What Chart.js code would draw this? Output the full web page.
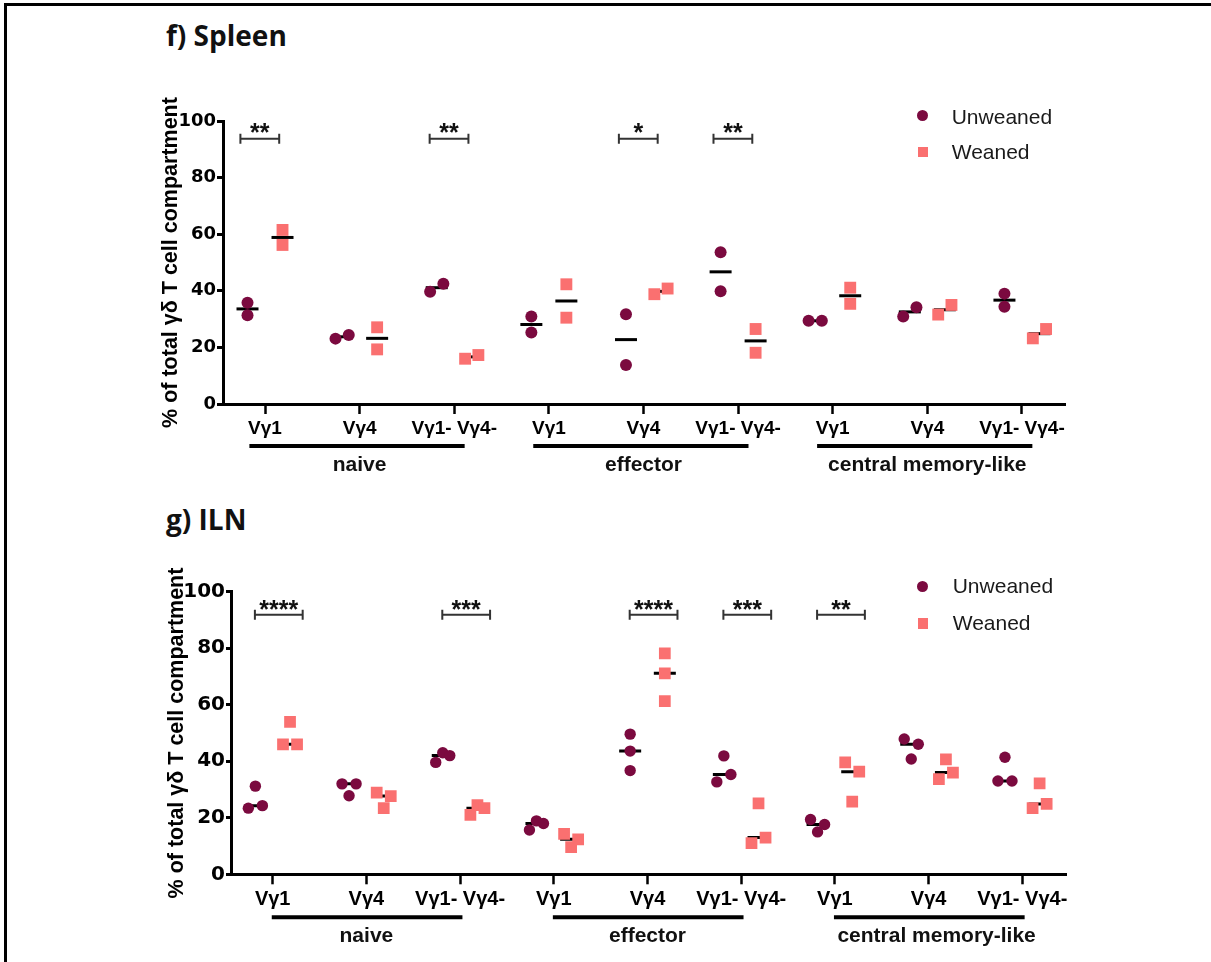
<!DOCTYPE html>
<html>
<head>
<meta charset="utf-8">
<script src="https://cdn.jsdelivr.net/npm/chart.js@4.4.1/dist/chart.umd.min.js"></script>
<style>
  html, body { margin: 0; padding: 0; background: #fff; }
  body { width: 1211px; height: 962px; position: relative; overflow: hidden; font-family: "Liberation Sans", Arial, sans-serif; }
  .frame { position: absolute; left: 4px; top: 3px; width: 1300px; height: 1000px; border-left: 3px solid #000; border-top: 3px solid #000; }
  .ptitle { position: absolute; font-family: "Open Sans", sans-serif; font-weight: 700; font-size: 28px; line-height: 28px; color: #111; white-space: nowrap; }
  canvas { position: absolute; left: 0; }
  .leg-text { position: absolute; font-family: "Liberation Sans", Arial, sans-serif; font-size: 21px; line-height: 21px; color: #1a1a1a; white-space: nowrap; }
  .dot { position: absolute; width: 11px; height: 11px; border-radius: 50%; background: #7b0a3f; }
  .sq { position: absolute; width: 10.5px; height: 10.5px; background: #fa7070; }
</style>
</head>
<body>
<div class="frame"></div>
<div class="ptitle" style="left:166px; top:20.6px;">f) Spleen</div>
<div class="ptitle" style="left:166px; top:505px;">g) ILN</div>

<canvas id="spleen" width="1211" height="480" style="top:0px;"></canvas>
<canvas id="iln" width="1211" height="482" style="top:480px;"></canvas>

<!-- legends -->
<div class="dot" style="left:917.2px; top:110.2px;"></div>
<div class="leg-text" style="left:951.7px; top:105.5px;">Unweaned</div>
<div class="sq" style="left:917.5px; top:146.5px;"></div>
<div class="leg-text" style="left:951.7px; top:141.2px;">Weaned</div>

<div class="dot" style="left:917.2px; top:580.5px;"></div>
<div class="leg-text" style="left:952.7px; top:575.2px;">Unweaned</div>
<div class="sq" style="left:917.5px; top:618px;"></div>
<div class="leg-text" style="left:952.7px; top:612.2px;">Weaned</div>

<script>
// ---------------- DATA ----------------
const categories = ['Vγ1', 'Vγ4', 'Vγ1- Vγ4-', 'Vγ1', 'Vγ4', 'Vγ1- Vγ4-', 'Vγ1', 'Vγ4', 'Vγ1- Vγ4-'];
const groupNames = ['naive', 'effector', 'central memory-like'];
const groupCategoryRanges = [[0, 2], [3, 5], [6, 8]];
const yTickValues = [0, 20, 40, 60, 80, 100];
const seriesNames = ['Unweaned', 'Weaned'];
const yAxisTitle = '% of total γδ T cell compartment';

// Spleen (f) – individual mice, % of total γδ T cell compartment
const spleenUnweaned = [[35.8, 31.4], [23.1, 24.4], [39.7, 42.5], [30.9, 25.3], [31.7, 13.8], [53.6, 39.8], [29.4, 29.4], [30.9, 34.2], [39.0, 34.4]];
const spleenWeaned   = [[61.5, 56.2], [27.1, 19.3], [16.0, 17.3], [42.3, 30.5], [38.8, 40.8], [26.5, 18.1], [41.1, 35.4], [31.6, 35.0], [23.2, 26.5]];
const spleenSignificance = [[0, '**'], [2, '**'], [4, '*'], [5, '**']];

// ILN (g)
const ilnUnweaned = [[23.4, 24.3, 31.2], [32.0, 32.0, 27.8], [39.6, 43.0, 42.0], [15.7, 18.9, 18.0], [49.6, 43.6, 36.7], [32.7, 35.3, 41.9], [19.4, 15.0, 17.6], [47.9, 46.0, 40.8], [41.4, 33.0, 33.0]];
const ilnWeaned   = [[46.0, 46.0, 53.9], [28.9, 27.7, 23.4], [21.0, 24.5, 23.4], [14.3, 9.6, 12.4], [78.2, 71.1, 61.3], [25.1, 11.0, 13.0], [39.6, 36.3, 25.7], [40.7, 33.7, 36.0], [32.2, 23.4, 24.9]];
const ilnSignificance = [[0, '****'], [2, '***'], [4, '****'], [5, '***'], [6, '**']];

// ---------------- HELPERS ----------------
const COL_UNW = '#7b0a3f';
const COL_WEA = '#fa7070';

// spread points that sit at (nearly) the same height side by side, like a dot plot
function rowOffsets(vals, rowWidth, threshold) {
  const idx = vals.map((v, i) => i).sort((a, b) => vals[a] - vals[b]);
  const rows = [];
  let cur = [idx[0]];
  for (let k = 1; k < idx.length; k++) {
    if (vals[idx[k]] - vals[idx[k - 1]] < threshold) cur.push(idx[k]);
    else { rows.push(cur); cur = [idx[k]]; }
  }
  rows.push(cur);
  const off = new Array(vals.length).fill(0);
  rows.forEach(r => {
    r.sort((a, b) => a - b);
    const n = r.length;
    if (n > 1) r.forEach((i, j) => { off[i] = -rowWidth / 2 + rowWidth * j / (n - 1); });
  });
  return off;
}
function median(vals) {
  const s = [...vals].sort((a, b) => a - b);
  const n = s.length;
  return n % 2 ? s[(n - 1) / 2] : (s[n / 2 - 1] + s[n / 2]) / 2;
}
function toPoints(groups, shift, rowWidth) {
  const pts = [];
  groups.forEach((vals, c) => {
    const off = rowOffsets(vals, rowWidth, 3.9);
    vals.forEach((v, i) => pts.push({ x: c + shift + off[i], y: v }));
  });
  return pts;
}
function toMedians(groups, shift) {
  return groups.map((vals, c) => ({ x: c + shift, y: median(vals) }));
}

const annotPlugin = {
  id: 'annot',
  afterDraw(chart, args, o) {
    const { ctx, chartArea: ca, scales: { x, y } } = chart;
    ctx.save();
    // significance brackets
    o.sig.forEach(([c, label]) => {
      const x1 = x.getPixelForValue(c + o.bL);
      const x2 = x.getPixelForValue(c + o.bR);
      const yy = y.getPixelForValue(o.bY);
      ctx.strokeStyle = '#333';
      ctx.lineWidth = 2;
      ctx.beginPath();
      ctx.moveTo(x1, yy); ctx.lineTo(x2, yy);
      ctx.moveTo(x1, yy - 5); ctx.lineTo(x1, yy + 5);
      ctx.moveTo(x2, yy - 5); ctx.lineTo(x2, yy + 5);
      ctx.stroke();
      ctx.fillStyle = '#111';
      ctx.font = 'bold 25px "Liberation Sans", Arial, sans-serif';
      ctx.textAlign = 'center';
      ctx.textBaseline = 'alphabetic';
      ctx.fillText(label, (x1 + x2) / 2, yy + o.starDy);
    });
    // group bars + labels
    groupNames.forEach((name, g) => {
      const [a, b] = groupCategoryRanges[g];
      const xa = x.getPixelForValue(a + o.barL);
      const xb = x.getPixelForValue(b + o.barR);
      const yb = ca.bottom + o.barDy;
      ctx.strokeStyle = '#000';
      ctx.lineWidth = 4;
      ctx.beginPath(); ctx.moveTo(xa, yb); ctx.lineTo(xb, yb); ctx.stroke();
      ctx.fillStyle = '#111';
      ctx.font = 'bold 21px "Liberation Sans", Arial, sans-serif';
      ctx.textAlign = 'center';
      ctx.textBaseline = 'middle';
      ctx.fillText(name, x.getPixelForValue((a + b) / 2) + o.labelDx[g], ca.bottom + o.labelDy);
    });
    ctx.restore();
  }
};

function makePanel(id, unw, wea, sig, cfg) {
  const shift = 0.185;
  return new Chart(document.getElementById(id), {
    type: 'scatter',
    data: {
      datasets: [
        { label: seriesNames[0], data: toPoints(unw, -shift, cfg.rowW), pointStyle: 'circle', pointRadius: cfg.circR,
          pointBackgroundColor: COL_UNW, pointBorderWidth: 0, pointBorderColor: COL_UNW, order: 1 },
        { label: seriesNames[1], data: toPoints(wea, shift, cfg.rowW), pointStyle: 'rect', pointRadius: cfg.rectR,
          pointBackgroundColor: COL_WEA, pointBorderWidth: 0, pointBorderColor: COL_WEA, order: 2 },
        { label: 'median Unweaned', data: toMedians(unw, -shift), pointStyle: 'line', pointRadius: 11,
          pointBorderColor: '#000', pointBorderWidth: 3, order: 3 },
        { label: 'median Weaned', data: toMedians(wea, shift), pointStyle: 'line', pointRadius: 11,
          pointBorderColor: '#000', pointBorderWidth: 3, order: 4 }
      ]
    },
    options: {
      responsive: false,
      animation: false,
      events: [],
      layout: { padding: cfg.pad },
      plugins: {
        legend: { display: false },
        tooltip: { enabled: false },
        annot: { sig, ...cfg.annot }
      },
      scales: {
        x: {
          type: 'linear', min: cfg.xMin, max: cfg.xMax,
          afterBuildTicks: s => { s.ticks = categories.map((_, i) => ({ value: i })); },
          afterFit: s => { s.height = 60; },
          ticks: {
            callback: v => categories[v],
            autoSkip: false, maxRotation: 0, minRotation: 0,
            font: { family: '"Liberation Sans", Arial, sans-serif', weight: 'bold', size: cfg.xFont },
            color: '#000', padding: 3
          },
          grid: { display: true, drawOnChartArea: false, drawTicks: true, tickLength: 10, tickWidth: 2.5, tickColor: '#000' },
          border: { display: true, width: 3, color: '#000' }
        },
        y: {
          type: 'linear', min: 0, max: 100,
          afterBuildTicks: s => { s.ticks = yTickValues.map(v => ({ value: v })); },
          afterFit: s => { s.width = cfg.yW; },
          ticks: {
            font: { family: '"DejaVu Sans", sans-serif', weight: 'bold', size: cfg.yFont },
            color: '#000', padding: 1
          },
          grid: { display: true, drawOnChartArea: false, drawTicks: true, tickLength: cfg.yTick, tickWidth: 3, tickColor: '#000' },
          border: { display: true, width: 3, color: '#000' },
          title: {
            display: true, text: yAxisTitle, color: '#000',
            font: { family: '"Liberation Sans", Arial, sans-serif', weight: 'bold', size: cfg.titleFont },
            padding: { top: cfg.titlePad, bottom: 0 }
          }
        }
      }
    },
    plugins: [annotPlugin]
  });
}

makePanel('spleen', spleenUnweaned, spleenWeaned, spleenSignificance, {
  xMin: -0.444, xMax: 8.455, yW: 223, pad: { left: 0, right: 146, top: 121, bottom: 16 },
  xFont: 19, yFont: 18, yTick: 6, titleFont: 21.5, titlePad: 158, circR: 6, rectR: 8.4, rowW: 0.14,
  annot: { bL: -0.26, bR: 0.15, bY: 93.7, starDy: 2, barL: -0.165, barR: 0.11, barDy: 42, labelDy: 61, labelDx: [0, 0, 0] }
});
makePanel('iln', ilnUnweaned, ilnWeaned, ilnSignificance, {
  xMin: -0.445, xMax: 8.474, yW: 231, pad: { left: 0, right: 144.3, top: 111.7, bottom: 27.7 },
  xFont: 20, yFont: 20, yTick: 5, titleFont: 21.5, titlePad: 164, circR: 5.7, rectR: 8.3, rowW: 0.15,
  annot: { bL: -0.19, bR: 0.32, bY: 91.8, starDy: 3.5, barL: -0.01, barR: 0.025, barDy: 43, labelDy: 62, labelDx: [0, 0, 8] }
});
</script>
</body>
</html>
